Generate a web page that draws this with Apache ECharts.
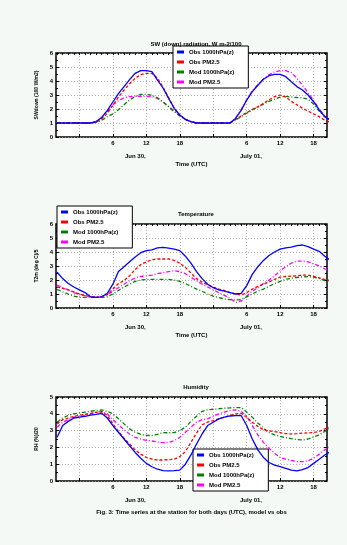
<!DOCTYPE html>
<html><head><meta charset="utf-8">
<script src="https://cdn.jsdelivr.net/npm/echarts@6/dist/echarts.min.js"></script>
<style>html,body{margin:0;padding:0;background:#f4f9f5}#c{width:347px;height:545px}</style>
</head><body><div id="c"></div><script>
// hours relative to 00 UTC of first day
const hours = [-4,-3,-2,-1,0,1,2,3,4,5,6,7,8,9,10,11,12,13,14,15,16,17,18,19,20,21,22,23,24,25,26,27,28,29,30,31,32,33,34,35,36,37,38,39,40,41,42,43,44,45];
const tickHours = [0,6,12,18,24,30,36,42];
const labelHours = [6,12,18,30,36,42];
const dateLabels = ['Jun 30,', 'July 01,'];
const seriesNames = ['Obs 1000hPa(z)','Obs PM2.5','Mod 1000hPa(z)','Mod PM2.5'];
const titles = ['SW (down) radiation, W m-2/100','Temperature','Humidity'];
const yNames = ['SWdown (100 W/m2)','T2m (deg C)/5','RH (%)/20'];
const xNames = ['Time (UTC)','Time (UTC)','Fig. 3: Time series at the station for both days (UTC), model vs obs'];

// Plot 1
const p1Blue = [1,1,1,1,1,1,1,1.1,1.4,1.9,2.5,3.1,3.6,4.1,4.55,4.74,4.74,4.67,4.07,3.5,2.76,2.05,1.57,1.26,1.1,1,1,1,1,1,1,1,1.33,1.9,2.64,3.24,3.7,4.12,4.38,4.48,4.48,4.31,3.95,3.6,3.36,3.0,2.52,1.93,1.45,1.2];
const p1Red = [1,1,1,1,1,1,1,1.05,1.3,1.7,2.25,2.85,3.35,3.8,4.2,4.45,4.55,4.55,4.2,3.55,2.8,2.05,1.55,1.25,1.1,1,1,1,1,1,1,1,1.25,1.5,1.75,1.95,2.15,2.4,2.65,2.88,3.0,2.85,2.55,2.3,2.05,1.85,1.65,1.45,1.2,1.05];
const p1Green = [1,1,1,1,1,1,1,1.05,1.2,1.45,1.65,1.95,2.3,2.65,2.9,3.04,3.04,2.98,2.8,2.5,2.15,1.8,1.5,1.25,1.1,1,1,1,1,1,1,1,1.2,1.45,1.7,1.95,2.15,2.35,2.55,2.7,2.85,2.9,2.85,2.82,2.8,2.7,2.35,1.85,1.45,1.15];
const p1Magenta = [1,1,1,1,1,1,1,1.1,1.4,1.8,2.3,2.6,2.8,2.88,2.9,2.9,2.9,2.88,2.75,2.5,2.2,1.85,1.55,1.25,1.1,1,1,1,1,1,1,1,1.35,1.95,2.65,3.3,3.75,4.15,4.45,4.65,4.74,4.74,4.6,4.2,3.7,3.15,2.6,2.0,1.5,1.2];
// Plot 2
const p2Blue = [2.55,2.1,1.75,1.5,1.3,1.1,0.8,0.76,0.8,1.05,1.7,2.6,2.95,3.3,3.65,3.95,4.1,4.15,4.3,4.33,4.28,4.2,4.1,3.7,3.2,2.6,2.1,1.7,1.45,1.3,1.2,1.1,1.0,1.05,1.6,2.4,2.95,3.4,3.75,4.0,4.2,4.3,4.35,4.45,4.5,4.38,4.2,4.05,3.7,3.4];
const p2Red = [1.5,1.4,1.3,1.15,1.0,0.9,0.8,0.76,0.82,0.95,1.35,1.75,1.95,2.3,2.75,3.1,3.3,3.45,3.5,3.5,3.5,3.4,3.2,2.9,2.5,2.1,1.85,1.65,1.5,1.35,1.25,1.1,1.0,0.93,1.1,1.35,1.55,1.7,1.85,2.05,2.2,2.25,2.28,2.3,2.35,2.35,2.25,2.15,2.05,1.95];
const p2Green = [1.33,1.15,1.0,0.85,0.76,0.76,0.76,0.76,0.76,0.8,1.0,1.25,1.5,1.7,1.9,2.0,2.03,2.05,2.05,2.05,2.05,2.0,1.9,1.75,1.55,1.35,1.2,1.0,0.85,0.75,0.65,0.6,0.57,0.6,0.8,1.0,1.2,1.35,1.55,1.75,1.9,2.05,2.12,2.18,2.22,2.24,2.2,2.12,1.95,1.85];
const p2Magenta = [1.64,1.45,1.3,1.1,0.95,0.88,0.82,0.8,0.82,0.95,1.2,1.45,1.7,1.95,2.15,2.25,2.3,2.35,2.45,2.52,2.6,2.67,2.6,2.45,2.2,1.95,1.7,1.5,1.3,1.1,0.9,0.7,0.4,0.5,0.85,1.2,1.45,1.75,2.0,2.3,2.65,2.95,3.2,3.35,3.35,3.3,3.15,3.0,2.8,2.65];
// Plot 3
const p3Blue = [2.6,3.3,3.55,3.75,3.8,3.85,3.92,3.97,4.03,3.75,3.3,2.9,2.5,2.1,1.7,1.35,1.05,0.85,0.7,0.62,0.6,0.62,0.65,1.0,1.55,2.2,2.8,3.3,3.5,3.7,3.8,3.87,3.89,3.9,3.3,2.5,1.85,1.4,1.1,0.95,0.85,0.75,0.65,0.6,0.68,0.8,1.05,1.3,1.55,1.75];
const p3Red = [3.4,3.65,3.75,3.85,3.92,3.97,4.03,4.08,4.13,3.9,3.4,2.95,2.55,2.2,1.85,1.6,1.4,1.3,1.25,1.25,1.27,1.3,1.45,1.75,2.3,2.85,3.35,3.5,3.6,3.7,3.8,3.9,4.0,4.03,3.8,3.5,3.25,3.05,2.98,2.94,2.88,2.82,2.8,2.82,2.85,2.86,2.88,2.95,3.1,3.2];
const p3Green = [3.5,3.75,3.9,4.0,4.05,4.1,4.15,4.2,4.23,4.15,4.0,3.7,3.4,3.1,2.9,2.78,2.72,2.7,2.78,2.88,2.87,2.88,3.0,3.2,3.55,3.85,4.15,4.23,4.27,4.3,4.33,4.35,4.37,4.37,4.1,3.8,3.45,3.15,2.88,2.75,2.65,2.58,2.52,2.47,2.44,2.5,2.62,2.75,2.95,3.15];
const p3Magenta = [3.2,3.5,3.65,3.8,3.83,3.9,4.0,4.1,4.13,4.0,3.65,3.35,3.05,2.8,2.6,2.5,2.42,2.38,2.33,2.28,2.3,2.4,2.6,2.9,3.2,3.5,3.65,3.7,3.85,4.0,4.1,4.2,4.23,4.15,3.85,3.3,2.75,2.3,1.95,1.65,1.4,1.3,1.22,1.15,1.15,1.2,1.35,1.6,1.85,2.05];

const yMax = [6, 6, 5];
const plots = [
  [p1Blue, p1Red, p1Green, p1Magenta],
  [p2Blue, p2Red, p2Green, p2Magenta],
  [p3Blue, p3Red, p3Green, p3Magenta]
];

const colors = ['#0000ff', '#ff0000', '#008000', '#ff00ff'];
const dashes = ['solid', [3, 2], [4, 2, 1, 2], [4, 2, 1, 2]];
const gridTops = [53, 224, 397];
const legendPos = [{left: 173, top: 46}, {left: 57, top: 206}, {left: 193, top: 449}];
const titleTops = [36, 206, 379];
const dateTops = [153, 324, 497];
const xNameGaps = [24, 24, 28];

const FONT = 'Liberation Sans, Arial, sans-serif';
const grid = [], xAxis = [], yAxis = [], series = [], legend = [], title = [], graphic = [];
const gridLine = {show: true, lineStyle: {type: [1, 2], color: '#9a9a9a', width: 0.8}};
const noLine = {show: false, onZero: false};

plots.forEach((arrs, g) => {
  grid.push({left: 56, width: 271, top: gridTops[g], height: 84, show: true,
    backgroundColor: '#ffffff', borderColor: '#000', borderWidth: 1.5});
  xAxis.push({gridIndex: g, type: 'value', min: -4.2, max: 44.4, position: 'bottom',
    name: xNames[g], nameLocation: 'middle', nameGap: xNameGaps[g],
    nameTextStyle: {fontSize: 6, fontWeight: 'bold', color: '#000', fontFamily: FONT},
    axisLine: noLine,
    axisTick: {show: true, inside: true, length: 3, customValues: tickHours, lineStyle: {color: '#000', width: 1}},
    axisLabel: {customValues: labelHours, fontSize: 6, fontWeight: 'bold', color: '#000', margin: 3, fontFamily: FONT,
      formatter: v => String(Math.round(v) % 24)},
    splitLine: gridLine});
  xAxis.push({gridIndex: g, type: 'value', min: -4.2, max: 44.4, position: 'top',
    axisLine: noLine, axisLabel: {show: false}, splitLine: {show: false},
    axisTick: {show: true, inside: true, length: 2, customValues: hours, lineStyle: {color: '#000', width: 1}}});
  yAxis.push({gridIndex: g, type: 'value', min: 0, max: yMax[g], interval: 1, position: 'left',
    name: yNames[g], nameLocation: 'middle', nameGap: 14, nameRotate: 90,
    nameTextStyle: {fontSize: 5, fontWeight: 'bold', color: '#000', fontFamily: FONT},
    axisLine: noLine,
    axisTick: {show: true, inside: true, length: 3, lineStyle: {color: '#000'}},
    minorTick: {show: true, splitNumber: 2, length: 2, lineStyle: {color: '#000'}},
    axisLabel: {fontSize: 6, fontWeight: 'bold', color: '#000', margin: 3, fontFamily: FONT},
    splitLine: gridLine});
  yAxis.push({gridIndex: g, type: 'value', min: 0, max: yMax[g], interval: 1, position: 'right',
    axisLine: noLine, axisLabel: {show: false}, splitLine: {show: false},
    axisTick: {show: true, inside: true, length: 3, lineStyle: {color: '#000'}},
    minorTick: {show: true, splitNumber: 2, length: 2, lineStyle: {color: '#000'}}});
  arrs.forEach((vals, s) => {
    series.push({type: 'line', name: seriesNames[s], xAxisIndex: 2 * g, yAxisIndex: 2 * g,
      data: hours.map((h, i) => [h, vals[i]]), symbol: 'none', clip: true, silent: true,
      color: colors[s], lineStyle: {color: colors[s], width: 1.3, type: dashes[s]}, z: 10 - s});
  });
  legend.push(Object.assign({orient: 'vertical', data: seriesNames, itemWidth: 7, itemHeight: 3, itemGap: 4,
    padding: [3, 14, 3, 4], borderColor: '#000', borderWidth: 1, backgroundColor: '#fff',
    icon: 'rect', selectedMode: false,
    textStyle: {fontSize: 6, fontWeight: 'bold', color: '#000', fontFamily: FONT}}, legendPos[g]));
  title.push({text: titles[g], left: 191, top: titleTops[g], textAlign: 'center',
    textStyle: {fontSize: 6, fontWeight: 'bold', color: '#000', fontFamily: FONT}});
  graphic.push({type: 'text', left: 125, top: dateTops[g], style: {text: dateLabels[0], fontSize: 6, fontWeight: 'bold', fill: '#000', fontFamily: FONT}});
  graphic.push({type: 'text', left: 240, top: dateTops[g], style: {text: dateLabels[1], fontSize: 6, fontWeight: 'bold', fill: '#000', fontFamily: FONT}});
});

const chart = echarts.init(document.getElementById('c'), null, {renderer: 'canvas'});
chart.setOption({backgroundColor: '#f4f9f5', animation: false, title, grid, xAxis, yAxis, series, legend, graphic});
</script></body></html>
